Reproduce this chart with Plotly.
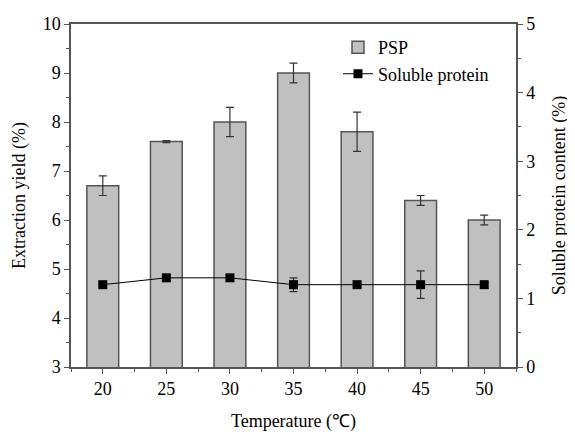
import plotly.graph_objects as go

temps = [20, 25, 30, 35, 40, 45, 50]
psp_yield = [6.7, 7.6, 8.0, 9.0, 7.8, 6.4, 6.0]
psp_err = [0.2, 0.02, 0.3, 0.2, 0.4, 0.1, 0.1]
protein = [1.2, 1.3, 1.3, 1.2, 1.2, 1.2, 1.2]
protein_err = [0.02, 0.03, 0.03, 0.1, 0.03, 0.2, 0.03]

font = "Liberation Serif"
axc = "#555555"

fig = go.Figure()
fig.add_trace(go.Bar(
    x=temps, y=psp_yield, name="PSP", width=2.5,
    marker=dict(color="#c0c0c0", line=dict(color="#555555", width=1.5)),
    error_y=dict(type="data", array=psp_err, color="#333333", thickness=1.2, width=4),
    yaxis="y",
))
fig.add_trace(go.Scatter(
    x=temps, y=protein, name="Soluble protein", mode="lines+markers",
    line=dict(color="black", width=1),
    marker=dict(symbol="square", size=9, color="black"),
    error_y=dict(type="data", array=protein_err, color="#333333", thickness=1.2, width=4),
    yaxis="y2",
))

tf = dict(family=font, size=18, color="black")

fig.update_layout(
    width=567, height=424,
    margin=dict(l=63, r=59, t=16, b=65),
    paper_bgcolor="white", plot_bgcolor="white",
    font=tf,
    showlegend=True,
    legend=dict(x=0.60, y=0.985, xanchor="left", yanchor="top",
                bgcolor="rgba(0,0,0,0)", font=tf, tracegroupgap=0),
    xaxis=dict(
        range=[17.5, 52.5], tickmode="array", tickvals=temps, tickfont=tf,
        ticks="outside", ticklen=5, tickcolor=axc, tickwidth=1.2,
        minor=dict(dtick=2.5, tick0=17.5, ticks="outside", ticklen=3, tickcolor=axc),
        showline=True, linecolor=axc, linewidth=1.5, mirror=True,
        showgrid=False, zeroline=False, automargin=False,
        title=dict(text="Temperature (℃)", standoff=22, font=tf),
    ),
    yaxis=dict(
        range=[3, 10], dtick=1, tickfont=tf,
        ticks="outside", ticklen=5, tickcolor=axc, tickwidth=1.2,
        minor=dict(dtick=0.5, ticks="outside", ticklen=3, tickcolor=axc),
        showline=True, linecolor=axc, linewidth=1.5,
        showgrid=False, zeroline=False, automargin=False,
        title=dict(text="Extraction yield (%)", standoff=12, font=tf),
    ),
    yaxis2=dict(
        range=[0, 5], dtick=1, overlaying="y", side="right", tickfont=tf,
        ticks="outside", ticklen=5, tickcolor=axc, tickwidth=1.2,
        minor=dict(dtick=0.5, ticks="outside", ticklen=3, tickcolor=axc),
        showline=True, linecolor=axc, linewidth=1.5,
        showgrid=False, zeroline=False, automargin=False,
        title=dict(text="Soluble protein content (%)", standoff=18, font=tf),
    ),
)

fig.write_html("out.html")
